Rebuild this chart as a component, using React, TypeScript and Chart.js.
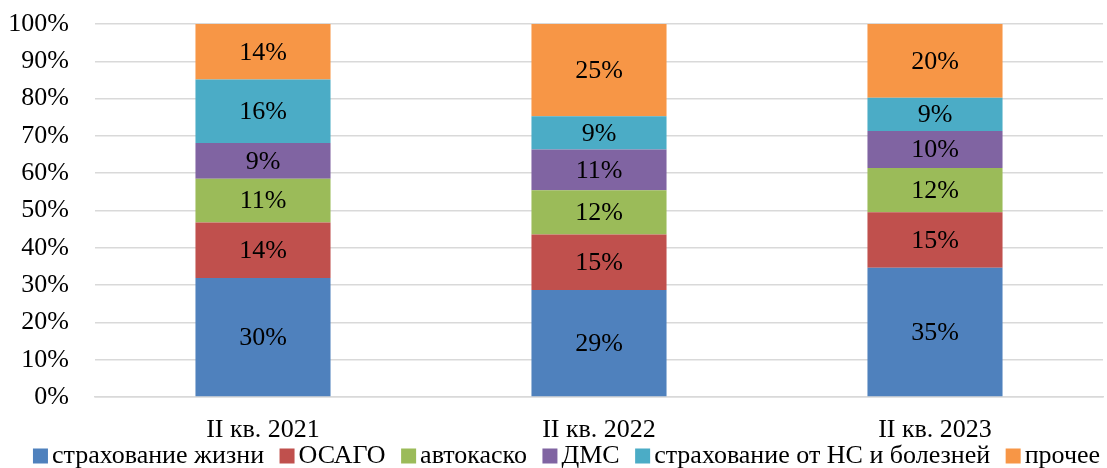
import React, { useEffect, useRef } from "react";
import { Chart, registerables } from "chart.js";

Chart.register(...registerables);

const categories = ["II кв. 2021", "II кв. 2022", "II кв. 2023"];
const seriesNames = [
  "страхование жизни",
  "ОСАГО",
  "автокаско",
  "ДМС",
  "страхование от НС и болезней",
  "прочее",
];
const life = [30, 29, 35];
const osago = [14, 15, 15];
const autocasco = [11, 12, 12];
const dms = [9, 11, 10];
const ns = [16, 9, 9];
const other = [14, 25, 20];
const colors = ["#4F81BD", "#C0504D", "#9BBB59", "#8064A2", "#4BACC6", "#F79646"];
const yTicks = [0, 10, 20, 30, 40, 50, 60, 70, 80, 90, 100];

const FONT = "'Liberation Serif', 'Times New Roman', serif";

export default function App() {
  const ref = useRef<HTMLCanvasElement | null>(null);
  useEffect(() => {
    if (!ref.current) return;
    const raw = [life, osago, autocasco, dms, ns, other];
    const totals = categories.map((_, i) => raw.reduce((s, a) => s + a[i], 0));
    const labelPlugin = {
      id: "barLabels",
      afterDatasetsDraw(chart: any) {
        const ctx = chart.ctx;
        ctx.save();
        ctx.fillStyle = "#000";
        ctx.font = `26px ${FONT}`;
        ctx.textAlign = "center";
        ctx.textBaseline = "middle";
        chart.data.datasets.forEach((ds: any, di: number) => {
          const meta = chart.getDatasetMeta(di);
          meta.data.forEach((bar: any, i: number) => {
            const cy = (bar.y + bar.base) / 2;
            ctx.fillText(ds.rawValues[i] + "%", bar.x, cy + 1);
          });
        });
        ctx.restore();
      },
    };
    const legendPlugin = {
      id: "customLegend",
      afterDraw(chart: any) {
        const ctx = chart.ctx;
        ctx.save();
        ctx.font = `26px ${FONT}`;
        ctx.textBaseline = "middle";
        ctx.textAlign = "left";
        const box = 15;
        const gapBoxText = 4;
        const gapItem = 15.5;
        const items = chart.data.datasets.map((ds: any) => ({
          label: ds.label,
          color: ds.backgroundColor,
          w: ctx.measureText(ds.label).width,
        }));
        const total =
          items.reduce((s: number, it: any) => s + box + gapBoxText + it.w, 0) +
          gapItem * (items.length - 1);
        let x = 566.5 - total / 2;
        const y = 455;
        items.forEach((it: any) => {
          ctx.fillStyle = it.color;
          ctx.fillRect(x, y - box / 2 + 1, box, box);
          ctx.fillStyle = "#000";
          ctx.fillText(it.label, x + box + gapBoxText, y + 1);
          x += box + gapBoxText + it.w + gapItem;
        });
        ctx.restore();
      },
    };
    const chart = new Chart(ref.current, {
      type: "bar",
      data: {
        labels: categories,
        datasets: raw.map((arr, k) => ({
          label: seriesNames[k],
          data: arr.map((v, i) => (v / totals[i]) * 100),
          rawValues: arr,
          backgroundColor: colors[k],
          borderWidth: 0,
          barPercentage: 0.402,
          categoryPercentage: 1,
        })) as any,
      },
      options: {
        animation: false,
        responsive: false,
        maintainAspectRatio: false,
        layout: { padding: { left: 0, right: 4, top: 24, bottom: 0 } },
        plugins: {
          tooltip: { enabled: false },
          legend: { display: false },
        },
        scales: {
          x: {
            stacked: true,
            grid: { display: false, drawTicks: false },
            border: { color: "#d9d9d9", width: 1.5 },
            afterFit: (axis: any) => {
              axis.height = 71;
            },
            ticks: { font: { family: FONT, size: 26 }, color: "#000", padding: 18 },
          },
          y: {
            stacked: true,
            min: 0,
            max: 100,
            grid: {
              color: "#d9d9d9",
              lineWidth: 1.5,
              drawTicks: true,
              tickLength: 26,
              tickColor: "rgba(0,0,0,0)",
            },
            border: { display: false },
            afterBuildTicks: (axis: any) => {
              axis.ticks = yTicks.map((v) => ({ value: v }));
            },
            afterFit: (axis: any) => {
              axis.width = 95;
            },
            ticks: {
              font: { family: FONT, size: 26 },
              color: "#000",
              padding: 0,
              callback: (v: any) => v + "%",
            },
          },
        },
      },
      plugins: [labelPlugin, legendPlugin],
    });
    return () => chart.destroy();
  }, []);
  return (
    <div style={{ position: "absolute", left: 0, top: 0, width: 1107, height: 468 }}>
      <canvas ref={ref} width={1107} height={468} style={{ display: "block" }} />
    </div>
  );
}
